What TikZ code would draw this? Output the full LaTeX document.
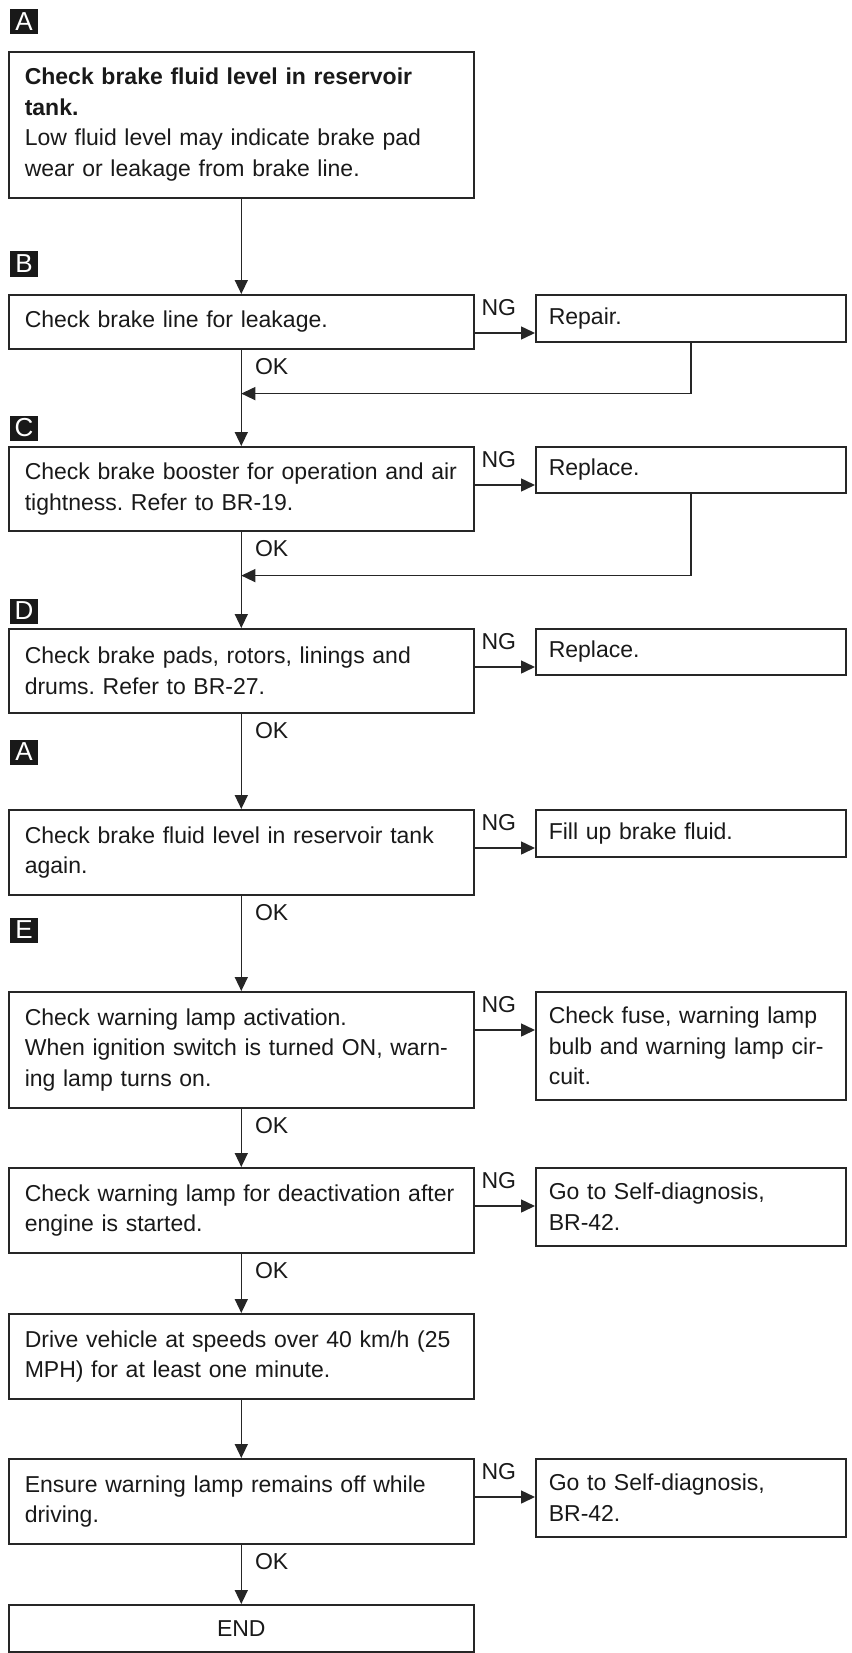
\documentclass[tikz,border=0pt]{standalone}
\usepackage{fontspec}
\setmainfont{Liberation Sans}
\usetikzlibrary{arrows.meta,calc}
\setlength{\parindent}{0pt}
\frenchspacing

\tikzset{
  stepbox/.style={draw=black!85, line width=0.8pt, anchor=north west,
    text width=216.5pt, inner xsep=8pt, inner ysep=0pt, align=left,
    text=black!90, font=\fontsize{11.5pt}{15.25pt}\selectfont},
  fixbox/.style={stepbox, text width=142pt, inner xsep=6.5pt},
  tag/.style={fill=black!90, text=white, minimum width=14pt, minimum height=12.5pt,
    inner sep=0pt, font=\fontsize{13pt}{13pt}\selectfont},
  arr/.style={draw=black!85, line width=0.75pt, -{Triangle[length=7pt,width=6.5pt]}},
  ok/.style={anchor=north west, inner sep=0pt, xshift=6.5pt, yshift=-4pt,
    text=black!90, font=\fontsize{11.5pt}{13pt}\selectfont},
  ng/.style={above=8.5pt, xshift=-3pt, inner sep=0pt,
    text=black!90, font=\fontsize{11.5pt}{13pt}\selectfont}
}

\begin{document}
\begin{tikzpicture}[x=0.5pt,y=-0.5pt]
    \useasboundingbox (0,0) rectangle (851,1653);

    % step letters
    \node[tag] (tagA) at (24,22) {A};
    \node[tag] (tagB) at (24,264) {B};
    \node[tag] (tagC) at (24,428) {C};
    \node[tag] (tagD) at (24,611) {D};
    \node[tag] (tagA2) at (24,752) {A};
    \node[tag] (tagE) at (24,930) {E};

    % check steps
    \node[stepbox, minimum height=73pt] (chkFluid) at (8,51)
        {{\bfseries Check brake fluid level in reservoir\\ tank.}\\
         Low fluid level may indicate brake pad\\ wear or leakage from brake line.};
    \node[stepbox, minimum height=27pt] (chkLine) at (8,294)
        {Check brake line for leakage.};
    \node[stepbox, minimum height=42pt] (chkBooster) at (8,446)
        {Check brake booster for operation and air\\ tightness. Refer to BR-19.};
    \node[stepbox, minimum height=42pt] (chkPads) at (8,628)
        {Check brake pads, rotors, linings and\\ drums. Refer to BR-27.};
    \node[stepbox, minimum height=42.5pt] (chkFluid2) at (8,809)
        {Check brake fluid level in reservoir tank\\ again.};
    \node[stepbox, minimum height=58pt] (chkLampOn) at (8,991)
        {Check warning lamp activation.\\ When ignition switch is turned ON, warn-\\ ing lamp turns on.};
    \node[stepbox, minimum height=42.5pt] (chkLampOff) at (8,1167)
        {Check warning lamp for deactivation after\\ engine is started.};
    \node[stepbox, minimum height=42.5pt] (drive) at (8,1313)
        {Drive vehicle at speeds over 40 km/h (25\\ MPH) for at least one minute.};
    \node[stepbox, minimum height=42.5pt] (chkDriving) at (8,1458)
        {Ensure warning lamp remains off while\\ driving.};
    \node[stepbox, minimum height=23.5pt, align=center] (finish) at (8,1604) {END};

    % NG actions
    \node[fixbox, minimum height=23.5pt] (repair) at (535,294) {Repair.};
    \node[fixbox, minimum height=23pt] (replBooster) at (535,446) {Replace.};
    \node[fixbox, minimum height=23pt] (replPads) at (535,628) {Replace.};
    \node[fixbox, minimum height=23.5pt] (fillUp) at (535,809) {Fill up brake fluid.};
    \node[fixbox, minimum height=54pt] (chkFuse) at (535,991)
        {Check fuse, warning lamp\\ bulb and warning lamp cir-\\ cuit.};
    \node[fixbox, minimum height=39pt] (selfDiag) at (535,1167)
        {Go to Self-diagnosis,\\ BR-42.};
    \node[fixbox, minimum height=39pt] (selfDiag2) at (535,1458)
        {Go to Self-diagnosis,\\ BR-42.};

    % OK path
    \draw[arr] (chkFluid) -- (chkLine);
    \draw[arr] (chkLine) -- node[pos=0, ok] {OK} (chkBooster);
    \draw[arr] (chkBooster) -- node[pos=0, ok] {OK} (chkPads);
    \draw[arr] (chkPads) -- node[pos=0, ok] {OK} (chkFluid2);
    \draw[arr] (chkFluid2) -- node[pos=0, ok] {OK} (chkLampOn);
    \draw[arr] (chkLampOn) -- node[pos=0, ok] {OK} (chkLampOff);
    \draw[arr] (chkLampOff) -- node[pos=0, ok] {OK} (drive);
    \draw[arr] (drive) -- (chkDriving);
    \draw[arr] (chkDriving) -- node[pos=0, ok] {OK} (finish);

    % NG branches
    \draw[arr] ($(chkLine.north east)+(0,39)$) -- node[ng] {NG} ($(repair.north west)+(0,39)$);
    \draw[arr] ($(chkBooster.north east)+(0,39)$) -- node[ng] {NG} ($(replBooster.north west)+(0,39)$);
    \draw[arr] ($(chkPads.north east)+(0,39)$) -- node[ng] {NG} ($(replPads.north west)+(0,39)$);
    \draw[arr] ($(chkFluid2.north east)+(0,39)$) -- node[ng] {NG} ($(fillUp.north west)+(0,39)$);
    \draw[arr] ($(chkLampOn.north east)+(0,39)$) -- node[ng] {NG} ($(chkFuse.north west)+(0,39)$);
    \draw[arr] ($(chkLampOff.north east)+(0,39)$) -- node[ng] {NG} ($(selfDiag.north west)+(0,39)$);
    \draw[arr] ($(chkDriving.north east)+(0,39)$) -- node[ng] {NG} ($(selfDiag2.north west)+(0,39)$);

    % back to main line
    \draw[arr] (repair.south) |- ($(chkLine.south)+(0,44)$);
    \draw[arr] (replBooster.south) |- ($(chkBooster.south)+(0,44)$);
\end{tikzpicture}
\end{document}
